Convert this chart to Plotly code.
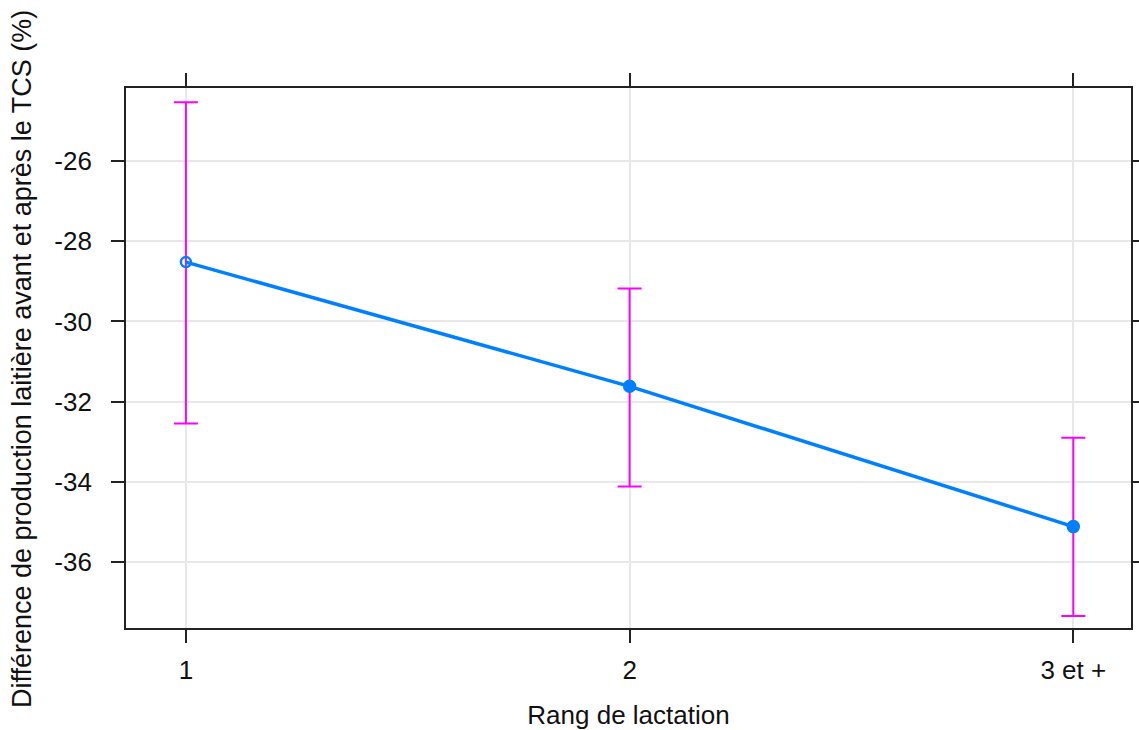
import plotly.graph_objects as go

categories = ["1", "2", "3 et +"]
estimate = [-28.52, -31.62, -35.12]
upper = [-24.53, -29.18, -32.90]
lower = [-32.55, -34.12, -37.35]
y_ticks = [-26, -28, -30, -32, -34, -36]
y_ticktext = ["-26", "-28", "-30", "-32", "-34", "-36"]
x_title = "Rang de lactation"
y_title = "Différence de production laitière avant et après le TCS (%)"

err_plus = [u - e for u, e in zip(upper, estimate)]
err_minus = [e - l for e, l in zip(estimate, lower)]

fig = go.Figure()
fig.add_trace(go.Scatter(
    x=categories, y=estimate, mode="lines+markers",
    line=dict(color="#0080FF", width=3.5),
    marker=dict(color="#0080FF", size=[10, 11, 11], symbol=["circle-open", "circle", "circle"],
                opacity=1, line=dict(color="#0080FF", width=2.5)),
    error_y=dict(type="data", array=err_plus, arrayminus=err_minus,
                 color="#FF00FF", thickness=2, width=12),
    showlegend=False,
))

font = "Liberation Sans, Arial, sans-serif"
fig.update_layout(
    width=1139, height=730,
    margin=dict(l=126, r=8, t=88, b=102, autoexpand=False),
    paper_bgcolor="white", plot_bgcolor="white",
    font=dict(family=font, size=26, color="#111"),
    xaxis=dict(
        type="category", range=[-0.135, 2.13], automargin=False,
        showgrid=True, gridcolor="#E8E8E8", gridwidth=1.8,
        showline=True, linecolor="#222", linewidth=1.8, mirror="ticks",
        ticks="outside", ticklen=13, tickwidth=1.8, tickcolor="#222",
        tickfont=dict(size=26), ticklabelstandoff=5,
        title=dict(text=x_title, font=dict(size=26), standoff=22),
        zeroline=False,
    ),
    yaxis=dict(
        range=[-37.65, -24.175], tickvals=y_ticks, ticktext=y_ticktext, automargin=False,
        showgrid=True, gridcolor="#E8E8E8", gridwidth=1.8,
        showline=True, linecolor="#222", linewidth=1.8, mirror="ticks",
        ticks="outside", ticklen=13, tickwidth=1.8, tickcolor="#222",
        tickfont=dict(size=26), ticklabelstandoff=14,
        zeroline=False,
    ),
    annotations=[dict(
        text=y_title, textangle=-90, showarrow=False,
        xref="paper", yref="paper", x=0, xshift=-104, xanchor="center",
        y=(628 - 359) / 540, yanchor="middle",
        font=dict(size=27, family=font, color="#111"),
    )],
)

fig.write_html("out.html", config={"displayModeBar": False},
               post_script="document.body.style.margin='0';document.body.style.overflow='hidden';")
